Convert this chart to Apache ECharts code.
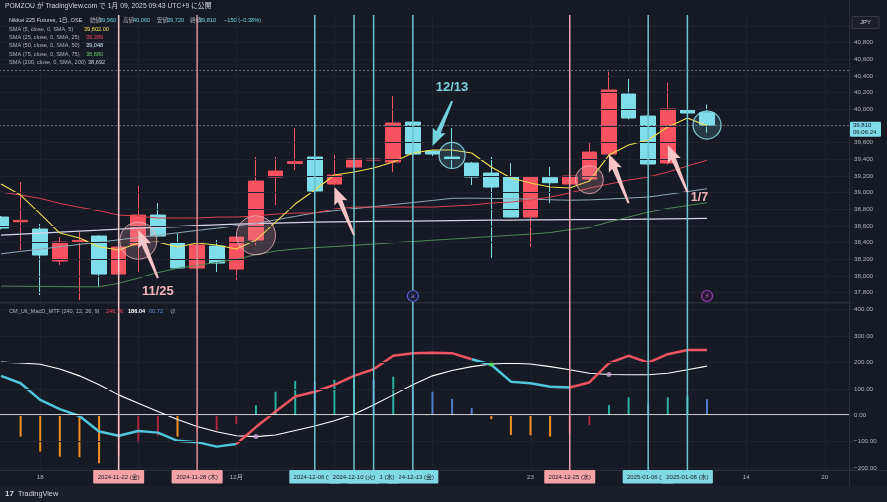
<!DOCTYPE html>
<html><head><meta charset="utf-8">
<script src="https://cdn.jsdelivr.net/npm/echarts@6/dist/echarts.min.js"></script>
<style>html,body{margin:0;padding:0;background:#161a25;overflow:hidden}#c{width:887px;height:502px}</style>
</head><body><div id="c"></div>
<script>
// ---------- DATA ----------
const dates = ['2024-11-14','2024-11-15','2024-11-18','2024-11-19','2024-11-20','2024-11-21','2024-11-22','2024-11-25','2024-11-26','2024-11-27','2024-11-28','2024-11-29','2024-12-02','2024-12-03','2024-12-04','2024-12-05','2024-12-06','2024-12-09','2024-12-10','2024-12-11','2024-12-12','2024-12-13','2024-12-16','2024-12-17','2024-12-18','2024-12-19','2024-12-20','2024-12-23','2024-12-24','2024-12-25','2024-12-26','2024-12-27','2024-12-30','2025-01-06','2025-01-07','2025-01-08','2025-01-09','2025-01-10','2025-01-14','2025-01-15','2025-01-16','2025-01-17','2025-01-20','2025-01-21'];
const opens  = [38708,38652,38564,38180,38416,38480,38024,38372,38732,38396,38096,38360,38084,38432,39188,39352,39428,39104,39308,39392,39368,39848,39500,39428,39356,39236,39188,38708,39180,39104,39164,39464,40184,39920,39356,39992,39960];
const closes = [38576,38668,38252,38408,38428,38024,38348,38732,38480,38096,38372,38156,38468,39140,39260,39372,39020,39212,39404,39404,39836,39464,39464,39404,39188,39068,38708,39188,39120,39200,39488,40232,39896,39344,40004,39956,39810];
const lows   = [38560,38312,37772,38132,37712,37868,38000,38048,38470,38090,38080,38048,37952,38372,38852,39272,39010,39090,39290,39308,39248,39450,39440,39284,39092,38216,38700,38348,38876,39090,39150,39450,39880,39330,39340,39950,39720];
const highs  = [38720,39128,38624,38468,38528,38490,38370,39080,38876,38516,38380,38432,38480,39428,39428,39776,39440,39452,39420,39488,40160,39860,39510,39776,39370,39428,39356,39200,39308,39210,39600,40452,40364,39930,40320,40000,40060];
const sma5   = [39104,38972,38745,38516,38456,38352,38312,38396,38408,38348,38396,38372,38324,38432,38648,38864,39032,39212,39248,39296,39368,39476,39512,39512,39476,39308,39176,39116,39068,39056,39140,39452,39572,39632,39788,39896,39802];
const sma25  = [39008,38972,38932,38872,38824,38784,38732,38720,38696,38696,38696,38708,38708,38720,38744,38756,38756,38804,38828,38828,38828,38828,38828,38840,38852,38876,38888,38912,38948,38996,39056,39104,39152,39188,39248,39320,39389];
const sma50  = [38267,38296,38323,38351,38380,38407,38435,38464,38491,38519,38548,38575,38603,38630,38674,38716,38759,38784,38809,38833,38858,38882,38907,38933,38935,38932,38928,38924,38915,38910,38914,38924,38936,38948,38980,39013,39048];
const sma75  = [37880,37878,37876,37873,37871,37871,37913,37976,38042,38092,38128,38164,38200,38258,38300,38325,38341,38354,38369,38384,38400,38414,38430,38444,38459,38474,38489,38504,38522,38558,38582,38648,38708,38768,38810,38846,38880];
const sma200 = [38490,38502,38514,38527,38539,38551,38564,38576,38586,38594,38604,38614,38623,38629,38635,38641,38646,38650,38653,38656,38658,38660,38663,38665,38668,38670,38672,38674,38675,38676,38677,38678,38680,38683,38686,38689,38692];
const macdLine   = [149,121,58,23,-3,-62,-78,-60,-66,-97,-102,-119,-109,-45,14,71,89,115,149,174,225,235,237,235,212,191,127,121,108,105,124,197,225,199,231,247,246.76];
const signalLine = [201,198,193,175,149,115,77,45,14,-16,-43,-63,-78,-81,-75,-58,-41,-21,4,39,77,115,149,169,184,194,197,194,184,172,159,154,153,153,159,172,186.04];
const histogram  = [null,-81,-138,-157,-159,-182,-157,-104,-78,-81,-62,-58,-33,38,89,130,127,134,139,134,146,115,89,62,27,-15,-75,-76,-81,-68,-37,38,68,45,68,74,60.72];
const crossIdx   = [13,25,31];
const crossVals  = [-81,194,154];
const crossKinds = ['bull','bear','bull'];
const tickDates = ['2024-11-18','2024-12-02','2024-12-23','2025-01-14','2025-01-20'];
const tickTexts = ['18','12月','23','14','20'];
const weekDates = ['2024-11-18','2024-11-25','2024-12-02','2024-12-09','2024-12-16','2024-12-23','2024-12-30','2025-01-14','2025-01-20'];
const markDates = ['2024-11-22','2024-11-28','2024-12-06','2024-12-10','2024-12-11','2024-12-13','2024-12-25','2025-01-06','2025-01-08'];
const markTexts = ['2024-11-22 (金)','2024-11-28 (木)','2024-12-06 (金)','2024-12-10 (火)','2024-12-11 (水)','2024-12-13 (金)','2024-12-25 (水)','2025-01-06 (月)','2025-01-08 (水)'];
const markKinds = ['pinkA','pinkB','cyan','cyan','cyan','cyan','pinkC','cyan','cyan'];
const lastPrice = 39810;
const alertPrice = 40464;

// ---------- STYLE ----------
const FONT = "'Liberation Sans','Noto Sans CJK JP',sans-serif";
const UP = '#f7525f', DOWN = '#7fdde9';
const GRIDL = -8.8, GRIDR = 32.9;
const chart = echarts.init(document.getElementById('c'), null, {renderer:'canvas'});

const candleData = opens.map((o,i)=>[o, closes[i], lows[i], highs[i]]);
const histData = histogram.map((v,i)=>{
  if (v == null) return null;
  const p = i>0 ? histogram[i-1] : null;
  let c;
  if (v >= 0) c = (p == null || v >= p) ? '#26b0a2' : '#4f7dc9';
  else c = (p == null || v <= p) ? '#f0901f' : '#a8273a';
  return {value:v, itemStyle:{color:c}};
});
const redRanges = [[12,24],[29,36]];
const cyanRanges = [[0,12],[24,29]];
const inR = (i,rs)=>rs.some(r=>i>=r[0]&&i<=r[1]);
const macdRed = macdLine.map((v,i)=>inR(i,redRanges)?v:null);
const macdCyan = macdLine.map((v,i)=>inR(i,cyanRanges)?v:null);

const priceFmt = v => (v>=37800 && v<=40800 && v!==39800) ? v.toLocaleString('en-US') : '';
const macdFmt = v => (v>=-200 && v<=400) ? ((v<0?'\u2212':'') + Math.abs(v).toFixed(2)) : '';

const lineS = (data,color,w,z)=>({type:'line',xAxisIndex:0,yAxisIndex:0,data,symbol:'none',showSymbol:false,lineStyle:{color,width:w},z:z||3,silent:true});

const option = {
  backgroundColor:'#161a25',
  animation:false,
  grid:[
    {left:GRIDL,right:GRIDR,top:-7.3,height:316.7,outerBoundsMode:'none'},
    {left:GRIDL,right:GRIDR,top:303,height:165,outerBoundsMode:'none'}
  ],
  xAxis:[
    {type:'category',gridIndex:0,data:dates,boundaryGap:true,axisLine:{show:false},axisTick:{show:false},axisLabel:{show:false},splitLine:{show:false}},
    {type:'category',gridIndex:1,data:dates,boundaryGap:true,axisLine:{show:false},axisTick:{show:false},splitLine:{show:false},
     axisLabel:{show:true,color:'#b2b5be',fontSize:6.2,fontFamily:FONT,margin:6,
       interval:(i,v)=>tickDates.indexOf(v)>=0,
       formatter:v=>{const k=tickDates.indexOf(v);return k<0?'':tickTexts[k];}}}
  ],
  yAxis:[
    {type:'value',gridIndex:0,position:'right',min:37600,max:41400,interval:200,z:20,
     axisLine:{show:false},axisTick:{show:false},
     splitLine:{lineStyle:{color:'#1f2330',width:1}},
     axisLabel:{color:'#b2b5be',fontSize:6.2,fontFamily:FONT,margin:0,formatter:priceFmt}},
    {type:'value',gridIndex:1,position:'right',min:-200,max:425,interval:100,z:20,
     axisLine:{show:false},axisTick:{show:false},
     splitLine:{lineStyle:{color:'#1f2330',width:1}},
     axisLabel:{color:'#b2b5be',fontSize:6.2,fontFamily:FONT,margin:0,formatter:macdFmt}}
  ],
  series:[
    {type:'candlestick',xAxisIndex:0,yAxisIndex:0,data:candleData,barWidth:'77%',z:2,silent:true,
     itemStyle:{color:UP,color0:DOWN,borderColor:UP,borderColor0:DOWN,borderWidth:1},
     markLine:{silent:true,symbol:['none','none'],label:{show:false},
       lineStyle:{color:'#6a6d78',type:[2,2],width:1},
       data:[{yAxis:lastPrice},{yAxis:alertPrice}]}},
    lineS(sma200,'#d8d4ec',1.3),
    lineS(sma75,'#4f8a55',1),
    lineS(sma50,'#8ea9b9',1),
    lineS(sma25,'#d9434f',1),
    lineS(sma5,'#f2e04a',1.1,4),
    {type:'bar',xAxisIndex:1,yAxisIndex:1,data:histData,barWidth:2,silent:true,z:2,
     markLine:{silent:true,symbol:['none','none'],label:{show:false},
       lineStyle:{color:'#ffffff',type:'solid',width:1.5},data:[{yAxis:0}]}},
    {type:'line',xAxisIndex:1,yAxisIndex:1,data:signalLine,symbol:'none',lineStyle:{color:'#ffffff',width:1.1},z:3,silent:true},
    {type:'line',xAxisIndex:1,yAxisIndex:1,data:macdCyan,symbol:'none',connectNulls:false,lineStyle:{color:'#4fc6d9',width:2.5},z:4,silent:true},
    {type:'line',xAxisIndex:1,yAxisIndex:1,data:macdRed,symbol:'none',connectNulls:false,lineStyle:{color:'#ee5461',width:2.5},z:4,silent:true},
    {type:'scatter',xAxisIndex:1,yAxisIndex:1,symbolSize:5,z:5,silent:true,
     data:crossIdx.map((ix,k)=>({value:[ix,crossVals[k]],itemStyle:{color:crossKinds[k]==='bull'?'#c79ad6':'#5ee35a'}}))}
  ]
};
chart.setOption(option);

// ---------- ANNOTATIONS (positioned through the axes) ----------
const P = (i,v)=>chart.convertToPixel({xAxisIndex:0,yAxisIndex:0},[i,v]);
const XI = d=>P(dates.indexOf(d),40000)[0];
const G = [];
const T = (x,y,text,fill,size,o)=>{o=o||{};G.push({type:'text',z:o.z||60,silent:true,style:{x,y,text,fill,fontSize:size,fontFamily:o.family||FONT,fontWeight:o.bold?'bold':'normal',align:o.align||'left',verticalAlign:'middle'}});};
const L = (x1,y1,x2,y2,stroke,w,z,dash)=>G.push({type:'line',z:z||40,silent:true,shape:{x1,y1,x2,y2},style:{stroke,lineWidth:w,lineDash:dash||null}});
const R = (x,y,w,h,fill,stroke,z,rr)=>G.push({type:'rect',z:z||50,silent:true,shape:{x,y,width:w,height:h,r:rr==null?1:rr},style:{fill,stroke:stroke||null,lineWidth:1}});

// weekly faint grid lines
weekDates.forEach(d=>{const x=Math.round(XI(d))+0.5;L(x,15,x,470,'#1f2330',1,1);});
// price-scale area cover (keeps plot lines out of the scale)
R(850,15,37,456,'#161a25',null,10,0);
// header cover
R(0,0,887,15,'#161a25',null,30,0);
// pane separators
L(0,302.5,849,302.5,'#2a2e39',1,31);
L(0,470.5,887,470.5,'#2a2e39',1,31);
L(849.5,0,849.5,486,'#2a2e39',1,31);
// highlight vertical lines
const lineCol = {pinkA:'#f6caca',pinkB:'#da8e97',pinkC:'#eba3a9',cyan:'#6cc3cf'};
markDates.forEach((d,k)=>{const x=XI(d);L(x,15,x,470,lineCol[markKinds[k]],1.5,40);});
// circles
const circles = [[7,38424,18.5,'p'],[13,38489,19.5,'p'],[30,39156,14,'p'],[23,39448,13,'c'],[36,39812,14,'c']];
circles.forEach(c=>{const p=P(c[0],c[1]);G.push({type:'circle',z:45,silent:true,shape:{cx:p[0],cy:p[1],r:c[2]},
  style:c[3]==='p'?{fill:'rgba(225,165,175,0.22)',stroke:'rgba(235,175,185,0.85)',lineWidth:1}:{fill:'rgba(127,221,233,0.16)',stroke:'rgba(140,220,232,0.9)',lineWidth:1.2}});});
// arrows
function arrowPts(tip,tail,hl,hw,w0,w1){
  const dx=tip[0]-tail[0],dy=tip[1]-tail[1],Ln=Math.hypot(dx,dy),ux=dx/Ln,uy=dy/Ln,px=-uy,py=ux;
  const bx=tip[0]-ux*hl,by=tip[1]-uy*hl;
  return [[tail[0]+px*w1/2,tail[1]+py*w1/2],[bx+px*w0/2,by+py*w0/2],[bx-ux*2+px*hw/2,by-uy*2+py*hw/2],tip,[bx-ux*2-px*hw/2,by-uy*2-py*hw/2],[bx-px*w0/2,by-py*w0/2],[tail[0]-px*w1/2,tail[1]-py*w1/2]];
}
const arrows = [[[8,37976],[7,38552],'p'],[[18,38492],[17,39068],'p'],[[23,40100],[22,39560],'c'],[[32,38876],[31,39464],'p'],[[35,39008],[34,39572],'p']];
arrows.forEach(a=>{const tail=P(a[0][0],a[0][1]),tip=P(a[1][0],a[1][1]);
  G.push({type:'polygon',z:55,silent:true,shape:{points:arrowPts(tip,tail,15,14,5,2)},style:{fill:a[2]==='p'?'#f7c4c7':'#74d2df'}});});
// annotation texts
(function(){let p=P(8,37820);T(p[0],p[1],'11/25','#f2b3b8',13,{bold:true,align:'center'});
 p=P(23,40268);T(p[0],p[1],'12/13','#7fd3df',13,{bold:true,align:'center'});
 p=P(35,39008);T(p[0]+12,198,'1/7','#f2b3b8',12.5,{bold:true,align:'center'});})();
// event icons
(function(){const x1=XI('2024-12-13'),x2=XI('2025-01-09');
 G.push({type:'circle',z:45,silent:true,shape:{cx:x1,cy:296,r:5.5},style:{fill:'#1b1e3a',stroke:'#5868d8',lineWidth:1.2}});
 T(x1,296,'≥','#8f9bf0',6,{align:'center',z:46});
 G.push({type:'circle',z:45,silent:true,shape:{cx:x2,cy:296,r:5.5},style:{fill:'#2a1b34',stroke:'#9c3fb5',lineWidth:1.2}});
 T(x2,296,'⚡','#e06bd0',6,{align:'center',z:46,family:"'DejaVu Sans',sans-serif"});})();
// time-axis date boxes (later ones drawn over earlier ones)
const boxFill = {pinkA:'#f4a3a6',pinkB:'#f4a3a6',pinkC:'#f4a3a6',cyan:'#80d8e4'};
[0,1,2,5,4,3,6,7,8].forEach((k,pos)=>{const x=XI(markDates[k]);R(x-25.5,470,51,13.5,boxFill[markKinds[k]],null,70+pos*2);
  G.push({type:'text',z:71+pos*2,silent:true,style:{x,y:477,text:markTexts[k],fill:'#1a1d27',fontSize:6,fontFamily:FONT,align:'center',verticalAlign:'middle'}});});
// price scale boxes
R(852,16.5,27,12,'#1c1f2a','#363a45',50);
T(865.5,22.5,'JPY','#d1d4dc',6,{align:'center'});
(function(){const y=P(0,lastPrice)[1];R(850,y-3.5,31,15,'#7fdde9',null,50);
 T(853,y+0.5,'39,810','#131722',6,{});T(853,y+7.5,'06:06:24','#131722',6,{});})();
// header and legends
T(5,6.5,'POMZOU が TradingView.com で 1月 09, 2025 09:43 UTC+9 に公開','#d1d4dc',6.8);
T(9,20.7,'Nikkei 225 Futures, 1日, OSE','#d1d4dc',5.6);
[[90,'始値',99,'39,960'],[123,'高値',133,'40,060'],[157,'安値',167,'39,720'],[190,'終値',199,'39,810']].forEach(a=>{T(a[0],20.7,a[1],'#b2b5be',5.6);T(a[2],20.7,a[3],'#6fd2de',5.6);});
T(224,20.7,'\u2212150 (\u22120.38%)','#6fd2de',5.6);
const legRows=[['SMA (5, close, 0, SMA, 5)','39,802.00','#f2e04a',84],['SMA (25, close, 0, SMA, 25)','39,389','#f04a5a',86],['SMA (50, close, 0, SMA, 50)','39,048','#c7e8f0',86],['SMA (75, close, 0, SMA, 75)','38,880','#6cc46c',86],['SMA (200, close, 0, SMA, 200)','38,692','#d1d4dc',88]];
const legY=[29.3,37.7,45.8,54,62.7];
legRows.forEach((r,k)=>{T(9,legY[k],r[0],'#b2b5be',5.6);T(r[3],legY[k],r[1],r[2],5.6);});
T(9,311.7,'CM_Ult_MacD_MTF (240, 12, 26, 9)','#b2b5be',5.6);
T(106,311.7,'246.76','#f04a5a',5.6);T(128,311.7,'186.04','#ffffff',5.6,{bold:true});T(149,311.7,'60.72','#5b8fd6',5.6);T(170,311.7,'∅','#b2b5be',5.6);
// footer
R(0,486,887,16,'#1b1f2a',null,30,0);
T(5,494,'17','#d1d4dc',8,{bold:true});
T(18,494,'TradingView','#d1d4dc',7.3);

chart.setOption({graphic:{elements:G}});
</script>
</body></html>
